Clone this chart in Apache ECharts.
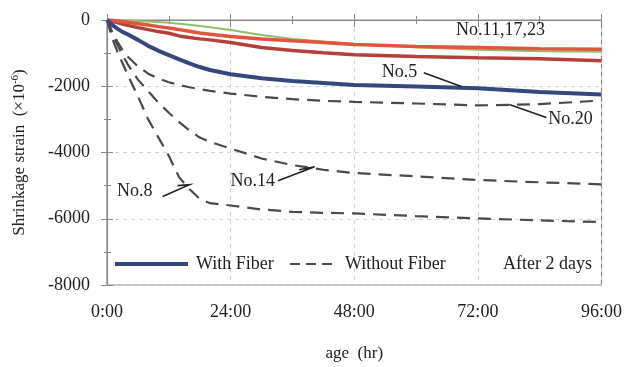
<!DOCTYPE html>
<html>
<head>
<meta charset="utf-8">
<script src="https://cdn.jsdelivr.net/npm/echarts@6/dist/echarts.min.js"></script>
<style>html,body{margin:0;padding:0;background:#fff}#c{width:625px;height:367px}</style>
</head>
<body>
<div id="c"></div>
<script>
// ---- data ----
var hours   = [0, 1, 2, 3, 4, 6, 8, 10, 12, 14, 16, 18, 20, 24, 30, 36, 42, 48, 60, 72, 84, 96];
var no8     = [0, -550, -950, -1300, -1650, -2300, -3000, -3550, -4100, -4750, -5100, -5400, -5530, -5600, -5720, -5790, -5820, -5840, -5920, -5990, -6050, -6100];
var no14    = [0, -400, -750, -1050, -1330, -1800, -2150, -2500, -2800, -3080, -3330, -3550, -3680, -3880, -4180, -4380, -4520, -4620, -4720, -4830, -4900, -4960];
var no20    = [0, -350, -650, -900, -1100, -1400, -1620, -1770, -1880, -1960, -2030, -2090, -2140, -2220, -2320, -2390, -2440, -2470, -2520, -2580, -2540, -2430];
var no5     = [0, -150, -260, -360, -430, -600, -780, -930, -1060, -1190, -1310, -1420, -1510, -1640, -1760, -1840, -1900, -1960, -2010, -2060, -2170, -2250];
var redTop  = [0, -10, -30, -50, -70, -110, -150, -200, -240, -290, -340, -390, -430, -500, -570, -630, -680, -740, -800, -830, -870, -880];
var green   = [0, -5, -10, -15, -20, -30, -45, -60, -80, -110, -140, -180, -220, -300, -450, -570, -650, -720, -820, -900, -940, -960];
var redLow  = [0, -40, -80, -120, -160, -230, -290, -350, -400, -480, -530, -570, -600, -680, -830, -920, -990, -1050, -1100, -1140, -1170, -1230];
var xTicks  = ['0:00', '24:00', '48:00', '72:00', '96:00'];
var yTicks  = [0, -2000, -4000, -6000, -8000];
// annotations in data coordinates [hour, strain]
var annoText = ['No.11,17,23', 'No.5', 'No.20', 'No.14', 'No.8'];
var annoAt   = [[76.4, -300], [56.8, -1590], [90, -3000], [28.3, -4880], [5.4, -5180]];
var leaders  = [
  null,
  [[61.5, -1590], [68.8, -2010]],
  [[85.3, -2940], [78.1, -2550]],
  [[33.2, -4850], [40.3, -4430], [37.3, -4520]],
  [[10.8, -5330], [16, -4970], [13.7, -5000]]
];
var legendText = ['With Fiber', 'Without Fiber', 'After 2 days'];

function pairs(v){ return hours.map(function(h,i){ return [h, v[i]]; }); }

var FONT = '"Liberation Serif","Times New Roman",serif';
var chart = echarts.init(document.getElementById('c'), null, {renderer:'canvas'});

var dashStyle = {color:'#4a4a4a', width:2.2, type:[13,8]};
function ser(name, vals, ls, z){
  return {name:name, type:'line', data:pairs(vals), showSymbol:false, symbol:'none',
          lineStyle:ls, z:z, silent:true, animation:false};
}

var baseX = {type:'value', min:0, max:96, interval:24, gridIndex:0};
var baseY = {type:'value', min:-8000, max:0, interval:2000, gridIndex:0};

chart.setOption({
  animation:false,
  grid:{left:107, right:23, top:20, bottom:80, show:true, borderColor:'#8a8a8a', borderWidth:1.2},
  xAxis:[
    Object.assign({}, baseX, {
      position:'bottom',
      name:'age  (hr)', nameLocation:'middle', nameGap:60,
      nameTextStyle:{fontFamily:FONT, fontSize:17, color:'#222'},
      axisLine:{show:true, lineStyle:{color:'#8a8a8a', width:1.2}},
      axisTick:{show:true, length:7, lineStyle:{color:'#8a8a8a'}},
      minorTick:{show:true, splitNumber:2, length:4, lineStyle:{color:'#8a8a8a'}},
      axisLabel:{fontFamily:FONT, fontSize:18, color:'#222', margin:18,
        formatter:function(v){ return xTicks[Math.round(v/24)]; }},
      splitLine:{show:true, lineStyle:{color:'#d4d4d4', type:[4,4], width:1}}
    }),
    Object.assign({}, baseX, {
      position:'bottom',
      axisLine:{show:false}, axisLabel:{show:false}, splitLine:{show:false},
      axisTick:{show:true, inside:true, length:6, lineStyle:{color:'#8a8a8a'}},
      minorTick:{show:true, splitNumber:2, length:4, lineStyle:{color:'#8a8a8a'}}
    })
  ],
  yAxis:[
    Object.assign({}, baseY, {
      position:'left',
      name:'Shrinkage strain  (×10{s|-6})', nameLocation:'middle', nameGap:78,
      nameTextStyle:{fontFamily:FONT, fontSize:17, color:'#222',
        rich:{s:{fontFamily:FONT, fontSize:11, color:'#222', verticalAlign:'top', padding:[0,0,8,0]}}},
      axisLine:{show:true, lineStyle:{color:'#8a8a8a', width:1.2}},
      axisTick:{show:true, length:6, lineStyle:{color:'#8a8a8a'}},
      minorTick:{show:true, splitNumber:2, length:3, lineStyle:{color:'#8a8a8a'}},
      axisLabel:{fontFamily:FONT, fontSize:18, color:'#222', margin:17,
        formatter:function(v){ return String(yTicks[Math.round(-v/2000)]); }},
      splitLine:{show:true, lineStyle:{color:'#d4d4d4', type:[4,4], width:1}}
    }),
    Object.assign({}, baseY, {
      position:'left',
      axisLine:{show:false}, axisLabel:{show:false}, splitLine:{show:false},
      axisTick:{show:true, inside:true, length:6, lineStyle:{color:'#8a8a8a'}},
      minorTick:{show:true, splitNumber:2, length:4, lineStyle:{color:'#8a8a8a'}}
    })
  ],
  series:[
    ser('No.8', no8, dashStyle, 2),
    ser('No.14', no14, dashStyle, 2),
    ser('No.20', no20, dashStyle, 2),
    ser('No.23', redLow, {color:'#b5403b', width:3.5}, 3),
    ser('No.17', green, {color:'#8fbf6c', width:2}, 3),
    ser('No.11', redTop, {color:'#e2553c', width:3.5}, 4),
    ser('No.5', no5, {color:'#34497a', width:4}, 5)
  ]
});

// annotations and legend
var g = [];
annoText.forEach(function(t, i){
  var p = chart.convertToPixel({gridIndex:0}, annoAt[i]);
  g.push({type:'text', x:p[0], y:p[1], z:10,
    style:{text:t, font:'18px ' + FONT, fill:'#222', align:'center', verticalAlign:'middle'}});
  if (leaders[i]) {
    var pts = leaders[i].map(function(d){ return chart.convertToPixel({gridIndex:0}, d); });
    g.push({type:'polyline', z:10, shape:{points:pts}, style:{stroke:'#222', lineWidth:1.6, fill:null}});
  }
});
// legend row
var ly = 264;
g.push({type:'line', z:10, shape:{x1:115, y1:ly, x2:188, y2:ly}, style:{stroke:'#34497a', lineWidth:4}});
g.push({type:'text', z:10, x:196, y:ly, style:{text:legendText[0], font:'18px ' + FONT, fill:'#222', verticalAlign:'middle'}});
g.push({type:'line', z:10, shape:{x1:290, y1:ly, x2:338, y2:ly}, style:{stroke:'#4a4a4a', lineWidth:2, lineDash:[10,6]}});
g.push({type:'text', z:10, x:345, y:ly, style:{text:legendText[1], font:'18px ' + FONT, fill:'#222', verticalAlign:'middle'}});
g.push({type:'text', z:10, x:503, y:ly, style:{text:legendText[2], font:'18px ' + FONT, fill:'#222', verticalAlign:'middle'}});
chart.setOption({graphic:g});
</script>
</body>
</html>
